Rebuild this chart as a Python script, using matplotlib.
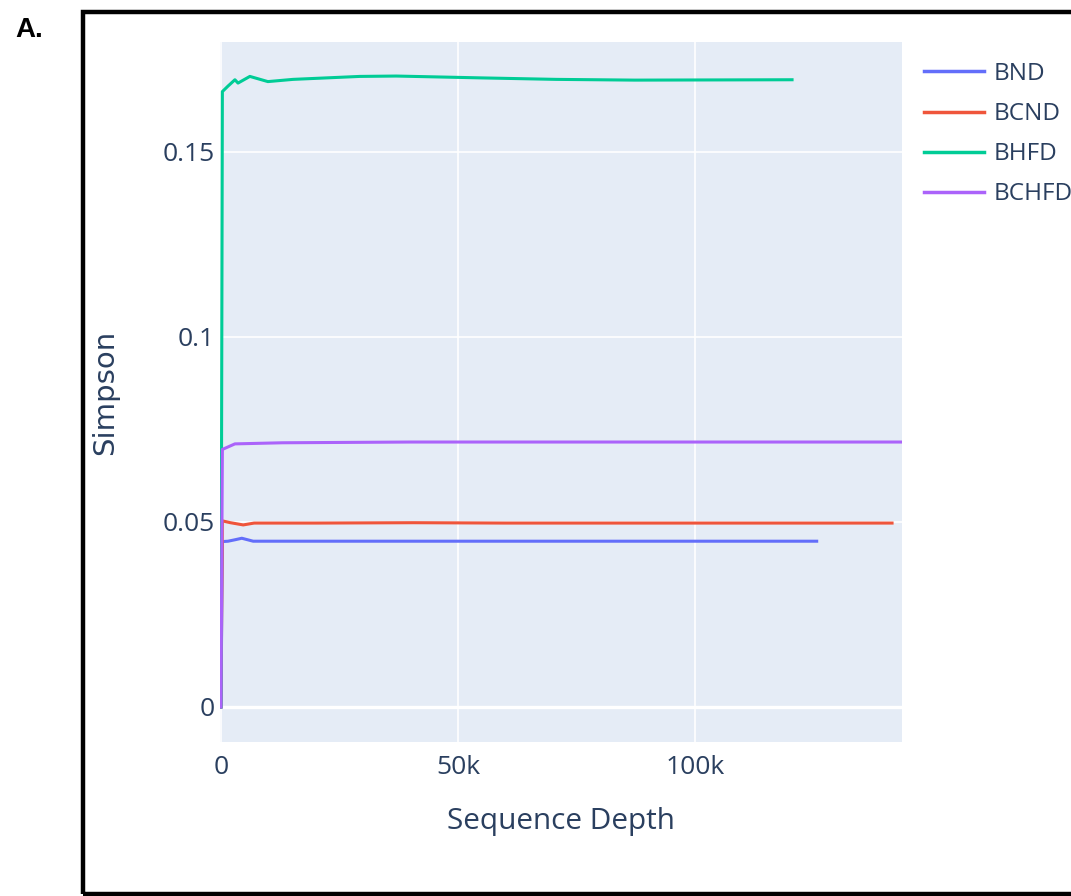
import matplotlib.pyplot as plt
from matplotlib.patches import Rectangle

# rarefaction curves
depth_bnd = [0, 300, 1500, 3000, 4400, 6800, 15000, 40000, 80000, 110000, 125700]
simpson_bnd = [0, 0.0447, 0.0448, 0.0452, 0.0456, 0.0448, 0.0448, 0.0448, 0.0448, 0.0448, 0.0448]

depth_bcnd = [0, 300, 2000, 4700, 7000, 20000, 40700, 60000, 100000, 141600]
simpson_bcnd = [0, 0.0503, 0.0498, 0.0492, 0.0497, 0.0497, 0.0498, 0.0497, 0.0497, 0.0497]

depth_bhfd = [0, 300, 1500, 2950, 3600, 6100, 9900, 15200, 29300, 37000, 55000, 70700, 87300, 120500]
simpson_bhfd = [0, 0.1663, 0.1678, 0.1695, 0.1686, 0.1704, 0.1690, 0.1696, 0.1704, 0.1705, 0.1700, 0.1696, 0.1694, 0.1695]

depth_bchfd = [0, 300, 2950, 6300, 13000, 40000, 80000, 143700]
simpson_bchfd = [0, 0.0696, 0.0711, 0.0712, 0.0714, 0.0716, 0.0716, 0.0716]

names = ['BND', 'BCND', 'BHFD', 'BCHFD']
colors = ['#636EFA', '#EF553B', '#00CC96', '#AB63FA']

xticks = [0, 50000, 100000]
xticklabels = ['0', '50k', '100k']
yticks = [0, 0.05, 0.1, 0.15]
yticklabels = ['0', '0.05', '0.1', '0.15']

txt = '#2a3f5f'
plt.rcParams['font.family'] = ['Open Sans', 'DejaVu Sans']

fig = plt.figure(figsize=(10.71, 8.96), dpi=100)
W, H = 1071, 896
ax = fig.add_axes([220/W, 1-742/H, 682/W, 700/H])
ax.set_facecolor('#E5ECF6')
for s in ax.spines.values():
    s.set_visible(False)

series = [(depth_bnd, simpson_bnd), (depth_bcnd, simpson_bcnd),
          (depth_bhfd, simpson_bhfd), (depth_bchfd, simpson_bchfd)]
for (x, y), n, c in zip(series, names, colors):
    ax.plot(x, y, color=c, lw=2.2, label=n, zorder=3, solid_joinstyle='round')

ax.set_xlim(-200, 143700)
ax.set_ylim(-0.00946, 0.1797)
ax.set_xticks(xticks)
ax.set_xticklabels(xticklabels)
ax.set_yticks(yticks)
ax.set_yticklabels(yticklabels)
ax.tick_params(length=0, labelsize=19, colors=txt)
ax.tick_params(axis='x', pad=9)
ax.tick_params(axis='y', pad=4)
ax.grid(True, color='white', lw=1.2, zorder=0)
ax.axhline(0, color='white', lw=2.4, zorder=1)
ax.set_axisbelow(True)

ax.set_xlabel('Sequence Depth', fontsize=21.4, color=txt, labelpad=20)
ax.set_ylabel('Simpson', fontsize=21, color=txt, labelpad=31, family='DejaVu Sans')

leg = ax.legend(loc='upper left', bbox_to_anchor=(924/W, 1-62/H), bbox_transform=fig.transFigure,
                frameon=False, fontsize=17.5, handlelength=2.45, handletextpad=0.42,
                labelspacing=0.66, borderpad=0, borderaxespad=0)
for t in leg.get_texts():
    t.set_color(txt)
for l in leg.get_lines():
    l.set_linewidth(2.5)

# panel frame and label
fig.patches.append(Rectangle((82.5/W, 1-894/H), 1.0, (894-12.5)/H, transform=fig.transFigure,
                             fill=False, ec='black', lw=3.2))
fig.text(15/W, 1-37/H, 'A.', fontsize=20, fontweight='bold', family='Liberation Sans', color='black')

fig.savefig('out.png', dpi=100)
